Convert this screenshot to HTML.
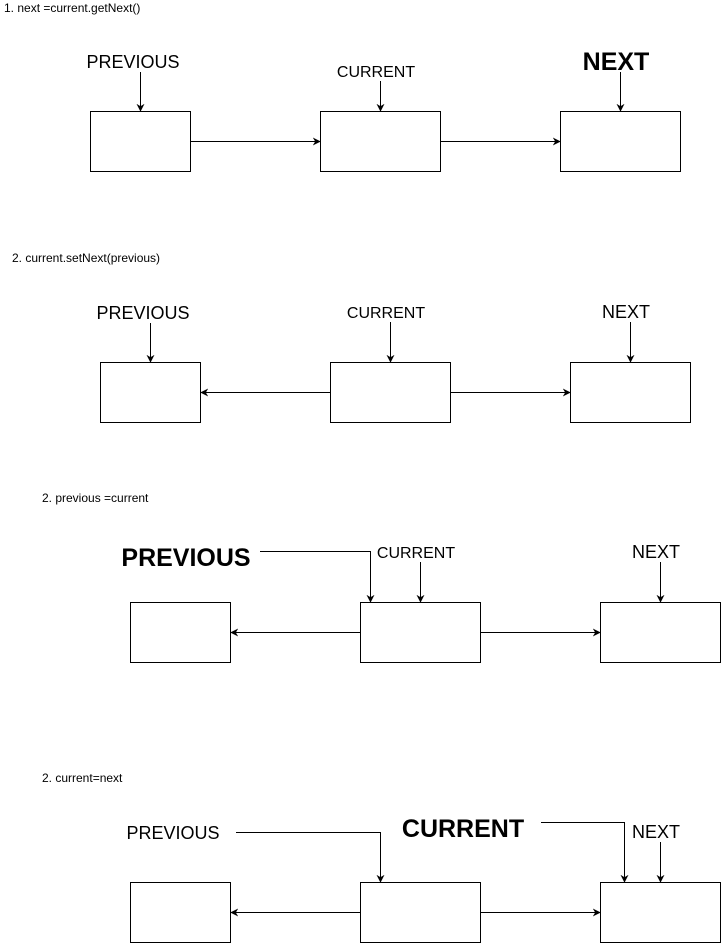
<!DOCTYPE html>
<html><head><meta charset="utf-8"><style>
html,body{margin:0;padding:0;background:#fff;}
svg{display:block;font-family:"Liberation Sans",Arial,sans-serif;}
</style></head><body>
<svg width="721" height="943" viewBox="0 0 721 943" xmlns="http://www.w3.org/2000/svg">
<defs>
<marker id="a" viewBox="0 0 10 10" refX="9" refY="5" markerWidth="8" markerHeight="8" orient="auto" markerUnits="userSpaceOnUse">
<path d="M0,0 L10,5 L0,10 L3,5 Z" fill="#000"/>
</marker>
</defs>
<g fill="#fff" stroke="#000" stroke-width="1">
<rect x="90.5" y="111.5" width="100" height="60"/>
<rect x="320.5" y="111.5" width="120" height="60"/>
<rect x="560.5" y="111.5" width="120" height="60"/>
<rect x="100.5" y="362.5" width="100" height="60"/>
<rect x="330.5" y="362.5" width="120" height="60"/>
<rect x="570.5" y="362.5" width="120" height="60"/>
<rect x="130.5" y="602.5" width="100" height="60"/>
<rect x="360.5" y="602.5" width="120" height="60"/>
<rect x="600.5" y="602.5" width="120" height="60"/>
<rect x="130.5" y="882.5" width="100" height="60"/>
<rect x="360.5" y="882.5" width="120" height="60"/>
<rect x="600.5" y="882.5" width="120" height="60"/>
</g>
<g fill="none" stroke="#000" stroke-width="1" marker-end="url(#a)">
<path d="M140.5,72 V111"/><path d="M380.5,81 V111"/><path d="M620.5,72 V111"/>
<path d="M190,141.5 H320"/><path d="M440,141.5 H560"/>
<path d="M150.5,323 V362"/><path d="M390.5,322 V362"/><path d="M630.5,322 V362"/>
<path d="M330,392.5 H201"/><path d="M450,392.5 H570"/>
<path d="M260,551.5 H370.5 V602"/><path d="M420.5,562 V602"/><path d="M660.5,562 V602"/>
<path d="M360,632.5 H231"/><path d="M480,632.5 H600"/>
<path d="M236,832.5 H380.5 V882"/><path d="M541,822.5 H624.5 V882"/><path d="M660.5,842 V882"/>
<path d="M360,912.5 H231"/><path d="M480,912.5 H600"/>
</g>
<g fill="#000" font-size="12">
<text x="4" y="12">1.  next =current.getNext()</text>
<text x="12" y="262">2.  current.setNext(previous)</text>
<text x="42" y="502">2.  previous =current</text>
<text x="42" y="782">2.  current=next</text>
</g>
<g fill="#000" text-anchor="middle">
<text x="133" y="68" font-size="18">PREVIOUS</text>
<text x="376" y="77" font-size="16">CURRENT</text>
<text x="616" y="70" font-size="25" font-weight="bold">NEXT</text>
<text x="143" y="319" font-size="18">PREVIOUS</text>
<text x="386" y="318" font-size="16">CURRENT</text>
<text x="626" y="318" font-size="18">NEXT</text>
<text x="186" y="566" font-size="25" font-weight="bold">PREVIOUS</text>
<text x="416" y="558" font-size="16">CURRENT</text>
<text x="656" y="558" font-size="18">NEXT</text>
<text x="173" y="839" font-size="18">PREVIOUS</text>
<text x="463" y="837" font-size="25" font-weight="bold">CURRENT</text>
<text x="656" y="838" font-size="18">NEXT</text>
</g>
</svg>
</body></html>
